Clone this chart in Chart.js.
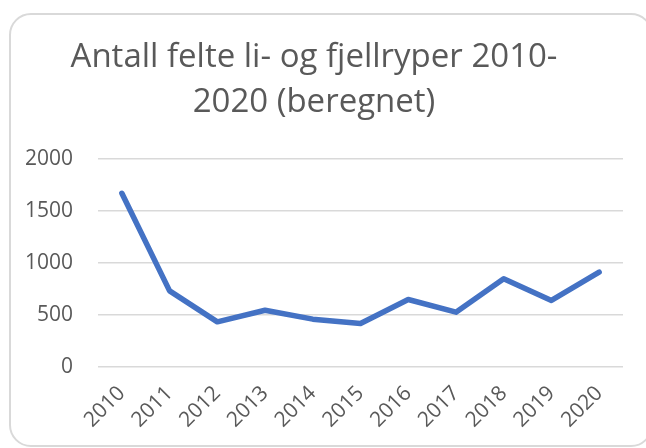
<!DOCTYPE html>
<html>
<head>
<meta charset="utf-8">
<script src="https://cdn.jsdelivr.net/npm/chart.js@4"></script>
<style>
  html, body { margin: 0; padding: 0; background: #fff; }
  #wrap { position: relative; width: 646px; height: 448px; overflow: hidden; }
  #card { position: absolute; left: 9px; top: 13px; width: 640px; height: 430px; border: 2px solid #d9d9d9; border-radius: 22px; }
  #chart { position: absolute; left: 0; top: 0; }
</style>
</head>
<body>
<div id="wrap">
  <div id="card"></div>
  <canvas id="chart" width="646" height="448"></canvas>
</div>
<script>
const years = ['2010', '2011', '2012', '2013', '2014', '2015', '2016', '2017', '2018', '2019', '2020'];
const felte = [1670, 732, 434, 546, 460, 418, 649, 527, 848, 640, 912];
const titleLines = ['Antall felte li- og fjellryper 2010-', '2020 (beregnet)'];

const grey = '#595959';

new Chart(document.getElementById('chart'), {
  type: 'line',
  data: {
    labels: years,
    datasets: [{
      data: felte,
      borderColor: '#4472c4',
      borderWidth: 5.5,
      borderCapStyle: 'round',
      borderJoinStyle: 'round',
      pointRadius: 0,
      tension: 0,
      fill: false
    }]
  },
  options: {
    responsive: false,
    animation: false,
    layout: { padding: { left: 5, right: 23, top: 0, bottom: 0 } },
    plugins: {
      legend: { display: false },
      tooltip: { enabled: false },
      title: {
        display: true,
        text: titleLines,
        color: grey,
        font: { family: 'Open Sans', size: 33, weight: 'normal', lineHeight: '45px' },
        padding: { top: 35, bottom: 34 }
      }
    },
    scales: {
      x: {
        offset: true,
        grid: { display: false },
        border: { display: false },
        ticks: {
          color: grey,
          font: { family: 'Open Sans', size: 21 },
          maxRotation: 45,
          minRotation: 45,
          padding: 6,
          autoSkip: false
        },
        afterFit(scale) { scale.height = 81; }
      },
      y: {
        min: 0,
        max: 2000,
        ticks: {
          stepSize: 500,
          color: grey,
          font: { family: 'Open Sans', size: 21 },
          padding: 25,
          callback: v => String(v)
        },
        grid: { color: '#d9d9d9', lineWidth: 1.5, drawTicks: false },
        border: { display: false },
        afterFit(scale) { scale.width = 93; }
      }
    }
  }
});
</script>
</body>
</html>
